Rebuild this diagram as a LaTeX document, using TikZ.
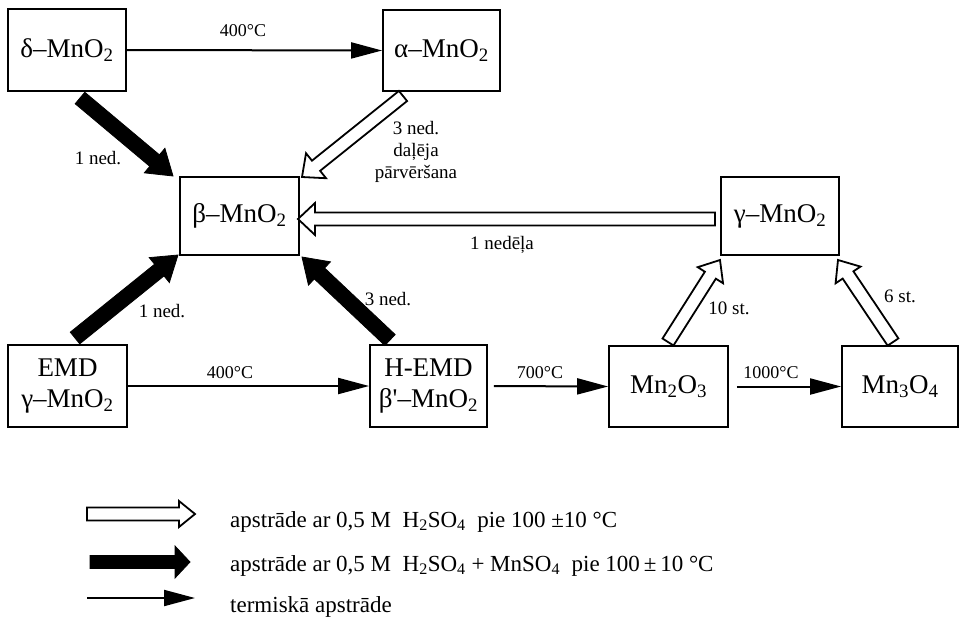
\documentclass[tikz,border=0pt]{standalone}
\usepackage{fontspec}
\setmainfont{Liberation Serif}
\usetikzlibrary{calc,arrows.meta}
\newcommand{\blockarrow}[6]{%
  \path ($(#3)!#6pt!(#2)$) coordinate (neck);
  \draw[#1] ($(#2)!#4pt!90:(#3)$) -- ($(neck)!#4pt!90:(#3)$) -- ($(neck)!#5pt!90:(#3)$)
    -- (#3) -- ($(neck)!#5pt!-90:(#3)$) -- ($(neck)!#4pt!-90:(#3)$) -- ($(#2)!#4pt!-90:(#3)$) -- cycle;
}
\tikzset{
  box/.style={draw, line width=1.8pt, inner sep=0pt, align=center,
    font=\fontsize{27}{31}\selectfont},
  lbl/.style={inner sep=0pt, font=\fontsize{19}{22}\selectfont, align=center},
  tlbl/.style={inner sep=0pt, font=\fontsize{18}{20}\selectfont},
  leg/.style={inner sep=0pt, anchor=base west, font=\fontsize{23}{26}\selectfont},
  thinarr/.style={line width=2pt, -{Triangle[length=31pt,width=16pt]}},
  blk/.style={fill=black, draw=black, line width=0.8pt, line join=miter},
  wht/.style={fill=white, draw=black, line width=1.8pt, line join=miter},
}
\begin{document}
\begin{tikzpicture}[x=1pt,y=-1pt]
\useasboundingbox (0,0) rectangle (960,622);
% boxes
\node[box, minimum width=118pt, minimum height=82pt] (delta) at (67,50) {δ–MnO\textsubscript{2}};
\node[box, minimum width=117pt, minimum height=81pt] (alpha) at (441.5,50.5) {α–MnO\textsubscript{2}};
\node[box, minimum width=119pt, minimum height=78pt] (beta) at (239.5,216) {β–MnO\textsubscript{2}};
\node[box, minimum width=118pt, minimum height=78pt] (gamma) at (780,216) {γ–MnO\textsubscript{2}};
\node[box, minimum width=119pt, minimum height=82pt] (emd) at (67.5,386) {EMD\\γ–MnO\textsubscript{2}};
\node[box, minimum width=117pt, minimum height=82pt] (hemd) at (428.5,386) {H-EMD\\β\textquotesingle–MnO\textsubscript{2}};
\node[box, minimum width=119pt, minimum height=81pt] (mnoa) at (668.5,386.5) {Mn\textsubscript{2}O\textsubscript{3}};
\node[box, minimum width=116pt, minimum height=81pt] (mnob) at (900,386.5) {Mn\textsubscript{3}O\textsubscript{4}};
% thin arrows
\draw[thinarr] (delta.east) -- (alpha.west);
\draw[thinarr] (emd.east) -- (hemd.west);
\draw[thinarr, shorten <=6pt] (hemd.east) -- (mnoa.west);
\draw[thinarr, shorten <=8pt] (mnoa.east) -- (mnob.west);
\node[tlbl] (t1) at (243,31) {400°C};
\node[tlbl] (t2) at (230,373) {400°C};
\node[tlbl] (t3) at (540,373) {700°C};
\node[tlbl] (t4) at (771,373) {1000°C};
% black block arrows
\coordinate (b1t) at (80,98);   \coordinate (b1h) at (173,176);
\coordinate (b2t) at (75,338);  \coordinate (b2h) at (178,255);
\coordinate (b3t) at (390,340); \coordinate (b3h) at (302,257);
\blockarrow{blk}{b1t}{b1h}{7.5}{16}{24}
\blockarrow{blk}{b2t}{b2h}{7.5}{16}{24}
\blockarrow{blk}{b3t}{b3h}{7.5}{16}{24}
% white block arrows
\coordinate (w1t) at (403,96);  \coordinate (w1h) at (302,177);
\coordinate (w2t) at (715,219); \coordinate (w2h) at (298,219);
\coordinate (w3t) at (668,342); \coordinate (w3h) at (720,260);
\coordinate (w4t) at (893,342); \coordinate (w4h) at (838,260);
\blockarrow{wht}{w1t}{w1h}{6.5}{16}{18}
\blockarrow{wht}{w2t}{w2h}{6.5}{16}{17}
\blockarrow{wht}{w3t}{w3h}{6.5}{15}{18}
\blockarrow{wht}{w4t}{w4h}{6.5}{15}{18}
% labels
\node[lbl] (n1) at (98,158) {1 ned.};
\node[lbl] (n2) at (162,311) {1 ned.};
\node[lbl] (n3) at (388,299) {3 ned.};
\node[lbl] (n4) at (416,152) {3 ned.\\daļēja\\pārvēršana};
\node[lbl] (n5) at (502,245) {1 nedēļa};
\node[lbl] (n6) at (729,308) {10 st.};
\node[lbl] (n7) at (900,296) {6 st.};
% legend
\coordinate (lw1) at (87,514);  \coordinate (lw2) at (195,514);
\coordinate (lb1) at (90,562);  \coordinate (lb2) at (190,562);
\coordinate (lt1) at (87,598);  \coordinate (lt2) at (195,598);
\blockarrow{wht}{lw1}{lw2}{6.5}{13}{16}
\blockarrow{blk}{lb1}{lb2}{6.5}{16}{15}
\draw[thinarr] (lt1) -- (lt2);
\node[leg] (g1) at (230,527) {apstrāde ar 0,5 M~~H\textsubscript{2}SO\textsubscript{4}~~pie 100 ±10 °C};
\node[leg] (g2) at (230,571) {apstrāde ar 0,5 M~~H\textsubscript{2}SO\textsubscript{4} + MnSO\textsubscript{4}~~pie 100\,±\,10 °C};
\node[leg] (g3) at (230,612) {termiskā apstrāde};
\end{tikzpicture}
\end{document}
